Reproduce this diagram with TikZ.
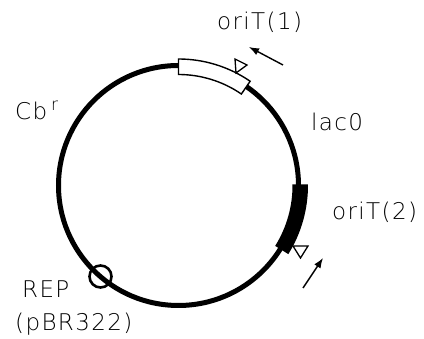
\documentclass[tikz,border=0pt]{standalone}
\usepackage{fontspec}
\setmainfont{DejaVu Sans ExtraLight}[LetterSpace=6]
\usetikzlibrary{arrows.meta}
\tikzset{
  ring/.style={line width=5pt},
  segbox/.style={line width=1.4pt},
  marker/.style={draw, line width=1.3pt, fill=white, line join=miter},
  pointer/.style={line width=1.4pt, -{Latex[length=10pt,width=7.5pt]}},
  lbl/.style={anchor=base west, inner sep=0pt, font=\fontsize{23}{23}\selectfont},
}
\begin{document}
\begin{tikzpicture}[x=1pt,y=1pt]
  \useasboundingbox (0,0) rectangle (424,339);
  % plasmid backbone
  \coordinate (c) at (178.5,153.5);
  \draw[ring] (c) circle[radius=120];
  % oriT(1) segment (open box)
  \draw[segbox, fill=white] ([shift={(90:111)}]c) arc[start angle=90, end angle=55.5, radius=111]
     -- ([shift={(55.5:126.5)}]c) arc[start angle=55.5, end angle=90, radius=126.5] -- cycle;
  % oriT(2) segment (solid box)
  \fill ([shift={(0.5:114)}]c) arc[start angle=0.5, end angle=-32, radius=114]
     -- ([shift={(-32:129.5)}]c) arc[start angle=-32, end angle=0.5, radius=129.5] -- cycle;
  % direction markers
  \coordinate (t1a) at (235,280);
  \coordinate (t1b) at (236,266);
  \coordinate (t1c) at (247,274);
  \draw[marker] (t1a) -- (t1c) -- (t1b) -- cycle;
  \coordinate (t2a) at (293,93);
  \coordinate (t2b) at (308,93);
  \coordinate (t2c) at (300.5,81);
  \draw[marker] (t2a) -- (t2b) -- (t2c) -- cycle;
  % REP origin
  \node[draw, circle, line width=2.6pt, minimum size=22pt, inner sep=0pt] (rep) at (100.5,62.5) {};
  % labels
  \node[lbl] (o1) at (217,309) {oriT(1)};
  \node[lbl] (lac) at (311,208) {lac0};
  \node[lbl] (o2) at (332,119) {oriT(2)};
  \node[lbl] (cb) at (15,219) {Cb\kern4pt\raisebox{9pt}{\fontsize{17}{17}\selectfont r}};
  \node[lbl] (rp) at (22,41) {REP};
  \node[lbl] (pb) at (15,8) {(pBR322)};
  % arrows
  \coordinate (a1s) at (283,274);
  \coordinate (a1e) at (249,292);
  \draw[pointer] (a1s) -- (a1e);
  \coordinate (a2s) at (303,51);
  \coordinate (a2e) at (323,81);
  \draw[pointer] (a2s) -- (a2e);
\end{tikzpicture}
\end{document}
